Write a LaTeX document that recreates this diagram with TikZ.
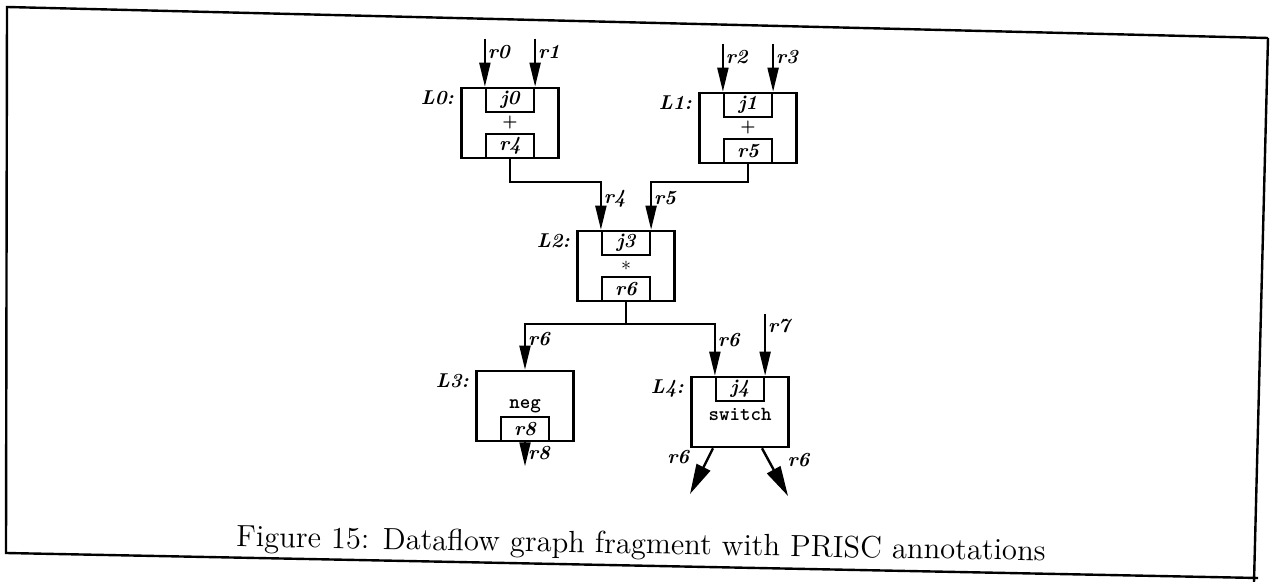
\documentclass[tikz,border=0pt]{standalone}
\usepackage{tikz}
\usetikzlibrary{positioning,arrows.meta,calc}

\begin{document}
\begin{tikzpicture}[x=0.5pt, y=-0.5pt, >={Triangle[length=12pt,width=5.5pt]},
  block/.style={draw, line width=1.3pt, minimum width=48.5pt, minimum height=35pt, inner sep=0pt},
  slot/.style={draw, line width=1.1pt, minimum width=24pt, minimum height=12pt, inner sep=0pt, font=\bfseries\itshape},
  tag/.style={font=\bfseries\itshape, inner sep=1pt},
  flow/.style={->, line width=1pt},
  bigflow/.style={-{Triangle[length=15pt,width=7.5pt]}, line width=1.2pt}]

\useasboundingbox (0,0) rectangle (1270,582);

% Frame
\draw[line width=1.2pt] (1268,38) -- (7,7) -- (6,553) -- (1258,578);
\draw[line width=1.2pt] (1268,38) -- (1254,582);

% Blocks
\node[block] (L0) at (510,123) {};
\node[block] (L1) at (748,128) {};
\node[block] (L2) at (626,266) {};
\node[block] (L3) at (525,406) {};
\node[block] (L4) at (740,412) {};

% Join slots and result registers
\node[slot, anchor=north] (j0) at (L0.north) {j0};
\node[slot, anchor=south] (r4) at (L0.south) {r4};
\node[slot, anchor=north] (j1) at (L1.north) {j1};
\node[slot, anchor=south] (r5) at (L1.south) {r5};
\node[slot, anchor=north] (j3) at (L2.north) {j3};
\node[slot, anchor=south] (r6) at (L2.south) {r6};
\node[slot, anchor=south] (r8) at (L3.south) {r8};
\node[slot, anchor=north] (j4) at (L4.north) {j4};

% Operators
\node[font=\footnotesize\bfseries] (op0) at (L0.center) {+};
\node[font=\footnotesize\bfseries] (op1) at (L1.center) {+};
\node (op2) at (L2.center) {$\ast$};
\node[font=\ttfamily\bfseries, anchor=south, inner sep=1.5pt] (op3) at (r8.north) {neg};
\node[font=\ttfamily\bfseries] (op4) at ([yshift=-1pt]L4.center) {switch};

% Block labels
\node[tag, anchor=north east] (n0) at ([xshift=-2pt,yshift=-1pt]L0.north west) {L0:};
\node[tag, anchor=north east] (n1) at ([xshift=-2pt,yshift=-1pt]L1.north west) {L1:};
\node[tag, anchor=north east] (n2) at ([xshift=-2pt,yshift=-1pt]L2.north west) {L2:};
\node[tag, anchor=north east] (n3) at ([xshift=-2pt,yshift=-1pt]L3.north west) {L3:};
\node[tag, anchor=north east] (n4) at ([xshift=-2pt,yshift=-1pt]L4.north west) {L4:};

% Free ends
\coordinate (in0) at ([yshift=24pt]j0.north west);
\coordinate (in1) at ([yshift=24pt]j0.north east);
\coordinate (in2) at ([yshift=24pt]j1.north west);
\coordinate (in3) at ([yshift=24pt]j1.north east);
\coordinate (in4) at ([yshift=24pt]j3.north west);
\coordinate (in5) at ([yshift=24pt]j3.north east);
\coordinate (split) at ([yshift=-11pt]r6.south);
\coordinate (in7) at ([yshift=31pt]j4.north east);
\coordinate (out8) at ([yshift=-12pt]r8.south);
\coordinate (out6a) at (690,494);
\coordinate (out6b) at (788,496);

% Inputs
\draw[flow] (in0) -- (j0.north west) node[tag, right, pos=0.27] {r0};
\draw[flow] (in1) -- (j0.north east) node[tag, right, pos=0.27] {r1};
\draw[flow] (in2) -- (j1.north west) node[tag, right, pos=0.27] {r2};
\draw[flow] (in3) -- (j1.north east) node[tag, right, pos=0.27] {r3};

% Sums into the product
\draw[flow] (r4.south) |- (in4) -- (j3.north west) node[tag, right, pos=0.35] {r4};
\draw[flow] (r5.south) |- (in5) -- (j3.north east) node[tag, right, pos=0.35] {r5};

% Product fans out
\draw[line width=1pt] (r6.south) -- (split);
\draw[flow] (split) -| (L3.north) node[tag, right, pos=0.66] {r6};
\draw[flow] (split) -| (j4.north west) node[tag, right, pos=0.65] {r6};
\draw[flow] (in7) -- (j4.north east) node[tag, right, pos=0.2] {r7};

% Outputs
\draw[flow] (r8.south) -- (out8) node[tag, right, pos=0.45] {r8};
\draw[bigflow] ([xshift=-13.5pt]L4.south) -- (out6a) node[tag, left, xshift=-8pt, pos=0.2] {r6};
\draw[bigflow] ([xshift=11pt]L4.south) -- (out6b) node[tag, right, xshift=8pt, pos=0.25] {r6};

% Caption
\node[font=\Large, rotate=-1] (cap) at (641,546) {\scalebox{1.065}{Figure 15: Dataflow graph fragment with PRISC annotations}};

\end{tikzpicture}
\end{document}
